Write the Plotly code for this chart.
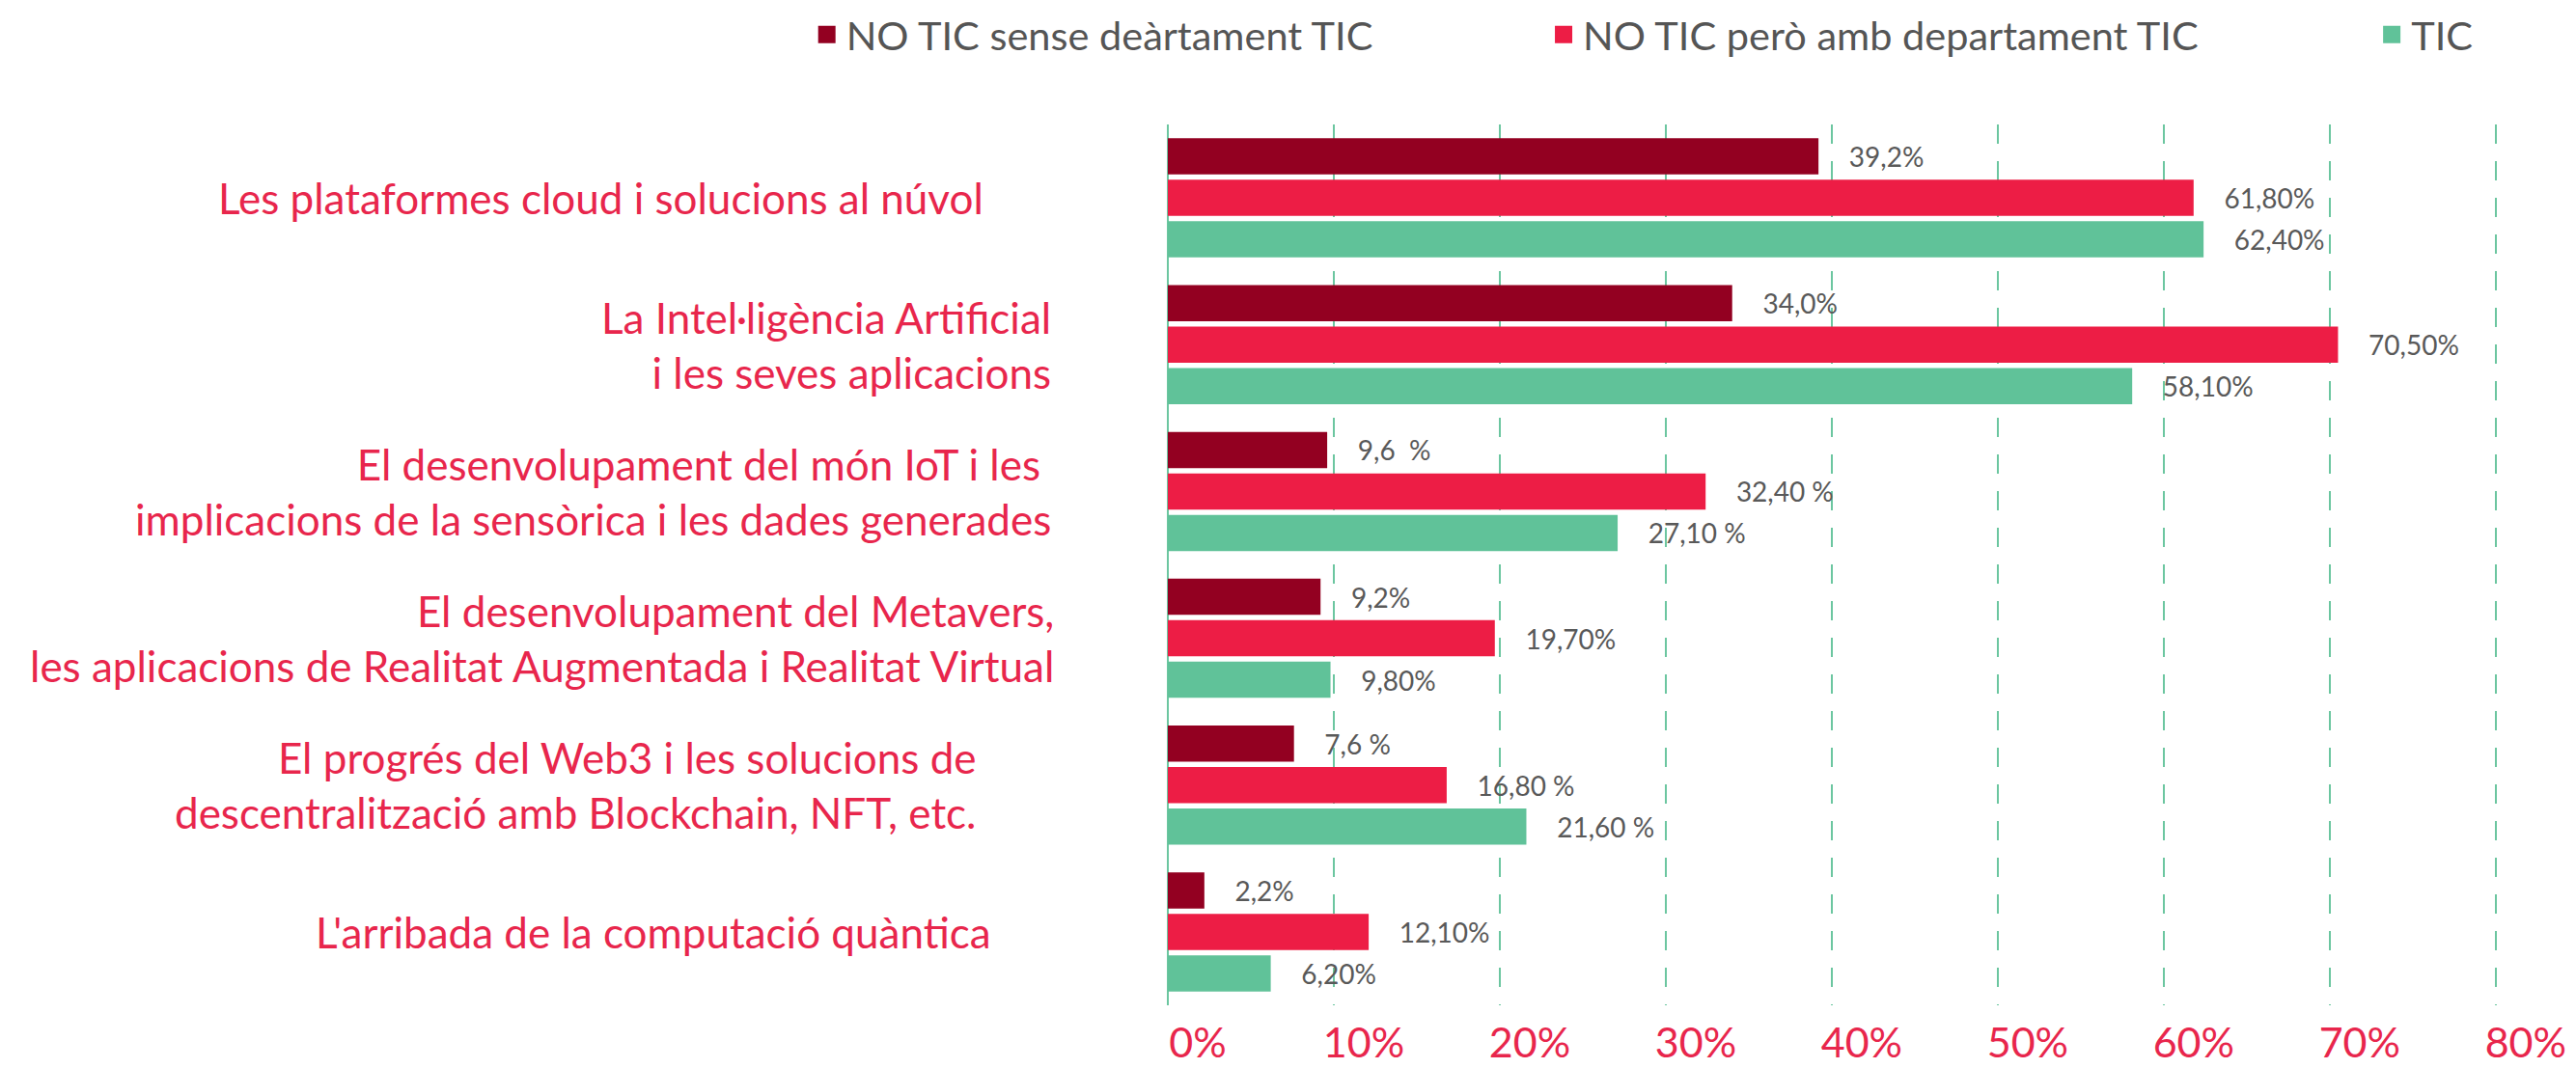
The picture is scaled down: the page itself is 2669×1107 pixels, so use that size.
import plotly.graph_objects as go

categories = [
    "Les plataformes cloud i solucions al núvol",
    "La Intel·ligència Artificial<br>i les seves aplicacions",
    "El desenvolupament del món IoT i les\u00a0<br>implicacions de la sensòrica i les dades generades",
    "El desenvolupament del Metavers,<br>les aplicacions de Realitat Augmentada i Realitat Virtual",
    "El progrés del Web3 i les solucions de<br>descentralització amb Blockchain, NFT, etc.",
    "L'arribada de la computació quàntica",
]
series_names = ["NO TIC sense deàrtament TIC", "NO TIC però amb departament TIC", "TIC"]
no_tic_sense = [39.2, 34.0, 9.6, 9.2, 7.6, 2.2]
no_tic_amb = [61.8, 70.5, 32.4, 19.7, 16.8, 12.1]
tic = [62.4, 58.1, 27.1, 9.8, 21.6, 6.2]
labels_sense = ["39,2%", "34,0%", "9,6\u00a0\u00a0%", "9,2%", "7,6\u00a0%", "2,2%"]
labels_amb = ["61,80%", "70,50%", "32,40\u00a0%", "19,70%", "16,80\u00a0%", "12,10%"]
labels_tic = ["62,40%", "58,10%", "27,10\u00a0%", "9,80%", "21,60\u00a0%", "6,20%"]
x_tick_vals = [0, 10, 20, 30, 40, 50, 60, 70, 80]
x_tick_labels = ["0%", "10%", "20%", "30%", "40%", "50%", "60%", "70%", "80%"]

colors = ["#930021", "#ed1d45", "#60c299"]
FONT = "Lato"
GRID = "#6cc6a0"
LABEL_RED = "#e8264c"
PAD = "\u00a0\u00a0\u00a0\u00a0"

# horizontal pixel offsets of category label right edges from the axis
label_shift = [-189, -119, -119, -116, -196, -181]
legend_x = [-0.268, 0.28, 0.896]

fig = go.Figure()
for i, (name, vals, labs) in enumerate(zip(series_names, [no_tic_sense, no_tic_amb, tic],
                                            [labels_sense, labels_amb, labels_tic])):
    leg = "legend" if i == 0 else f"legend{i+1}"
    fig.add_trace(go.Bar(
        name=name, x=vals, y=categories, orientation="h",
        marker=dict(color=colors[i], line=dict(width=0)),
        text=[PAD + t for t in labs], textposition="outside",
        textfont=dict(family=FONT, size=28, color="#595959"),
        cliponaxis=False, showlegend=False,
    ))
    # legend-only entry (larger swatch than the default bar symbol)
    fig.add_trace(go.Scatter(
        name=name, x=[None], y=[None], mode="markers",
        marker=dict(symbol="square", size=16, color=colors[i],
                    line=dict(width=2, color=colors[i])),
        legend=leg, showlegend=True, hoverinfo="skip",
    ))

for cat, sh in zip(categories, label_shift):
    fig.add_annotation(x=0, xref="paper", y=cat, yref="y", text=cat,
                       xanchor="right", yanchor="middle", align="right",
                       xshift=sh, showarrow=False,
                       font=dict(family=FONT, size=44, color=LABEL_RED))

leg_common = dict(orientation="h", yanchor="middle", xanchor="left",
                  font=dict(family=FONT, size=41.5, color="#555555"),
                  bgcolor="rgba(0,0,0,0)", itemsizing="trace")
fig.update_layout(
    width=2661, height=1099,
    margin=dict(l=1202, r=66, t=121, b=65, autoexpand=False),
    paper_bgcolor="white", plot_bgcolor="white",
    barmode="group", bargap=0.1525, bargroupgap=0.128,
    showlegend=True,
    legend=dict(x=legend_x[0], y=1.102, **leg_common),
    legend2=dict(x=legend_x[1], y=1.102, **leg_common),
    legend3=dict(x=legend_x[2], y=1.102, **leg_common),
    xaxis=dict(range=[0, 81], tickvals=x_tick_vals, ticktext=x_tick_labels,
               showgrid=True, gridcolor=GRID, gridwidth=2, griddash="20px,18px",
               zeroline=True, zerolinecolor=GRID, zerolinewidth=2,
               showline=False, ticks="", automargin=False,
               tickfont=dict(family=FONT, size=43, color=LABEL_RED),
               ticklabelshift=31, ticklabelstandoff=10),
    yaxis=dict(type="category", categoryorder="array", categoryarray=categories,
               range=[5.5, -0.5], showticklabels=False,
               showgrid=False, zeroline=False, showline=False, ticks="",
               automargin=False),
)

fig.write_html("out.html")
